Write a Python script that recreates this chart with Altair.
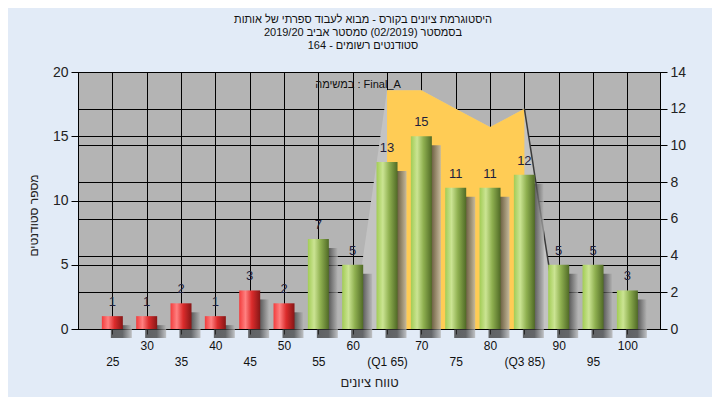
import altair as alt
import pandas as pd

# ---- data ----
scores = [25, 30, 35, 40, 45, 50, 55, 60, 65, 70, 75, 80, 85, 90, 95, 100]
counts = [1, 1, 2, 1, 3, 2, 7, 5, 13, 15, 11, 11, 12, 5, 5, 3]
tick_labels = ["25", "30", "35", "40", "45", "50", "55", "60", "(Q1 65)",
               "70", "75", "80", "(Q3 85)", "90", "95", "100"]
fail_limit = 50

# area shape (right axis)
side_scores = [60, 65, 70, 75, 80, 85, 90]
side_values = [0, 13, 13, 12, 11, 12, 0]
band_scores = [65, 70, 75, 80, 85]
band_values = [13, 13, 12, 11, 12]
edge_scores = [85, 90]
edge_values = [12, 0]

title_lines = ["היסטוגרמת ציונים בקורס - מבוא לעבוד ספרתי של אותות",
               "בסמסטר  (02/2019)  סמסטר אביב 2019/20",
               "סטודנטים רשומים - 164"]
legend_text = ["במשימה : Final_A"]
x_title = "טווח ציונים"
y_title = "מספר סטודנטים"

FONT = "Liberation Sans"

bars_df = pd.DataFrame({"score": scores, "count": counts,
                        "grp": ["fail" if s <= fail_limit else "pass" for s in scores]})
side_df = pd.DataFrame({"score": side_scores, "v": side_values})
band_df = pd.DataFrame({"score": band_scores, "v": band_values})
edge_df = pd.DataFrame({"score": edge_scores, "v": edge_values})
legend_df = pd.DataFrame({"t": legend_text})

# label expression: alternate rows
parts = []
for i, (v, lab) in enumerate(zip(scores, tick_labels)):
    js = f"['', '{lab}']" if i % 2 == 0 else f"'{lab}'"
    parts.append(f"datum.value == {v} ? {js}")
label_expr = " : ".join(parts) + " : ''"

xscale = alt.Scale(domain=[20, 104.75], nice=False, zero=False, padding=0)
xaxis = alt.Axis(values=scores, labelExpr=label_expr, grid=True, gridColor="black",
                 gridOpacity=1, gridWidth=1, tickColor="black", tickSize=5,
                 domainColor="black", labelFont=FONT, labelFontSize=12,
                 labelColor="#111", labelLineHeight=16, labelPadding=6,
                 labelOverlap=False, labelFlush=False, title=x_title,
                 titleFont=FONT, titleFontSize=13, titleFontWeight="normal",
                 titleColor="#222", titlePadding=9)

lscale = alt.Scale(domain=[0, 20], nice=False)
laxis = alt.Axis(orient="left", values=[0, 5, 10, 15, 20], grid=True, gridColor="black",
                 gridOpacity=1, gridWidth=1, tickColor="black", tickSize=7,
                 domainColor="black", labelFont=FONT, labelFontSize=14,
                 labelColor="#222", labelPadding=3, title=y_title, titleFont=FONT,
                 titleFontSize=12, titleFontWeight="normal", titleColor="#222",
                 titleX=-38, titleY=143)
rscale = alt.Scale(domain=[0, 14], nice=False)
raxis = alt.Axis(orient="right", values=[0, 2, 4, 6, 8, 10, 12, 14], grid=True,
                 gridColor="black", gridOpacity=1, gridWidth=1, tickColor="black",
                 tickSize=7, domainColor="black", labelFont=FONT, labelFontSize=14,
                 labelColor="#222", labelPadding=3, title=None)

X = alt.X("score:Q", scale=xscale, axis=xaxis)

red_grad = {"gradient": "linear", "x1": 0, "x2": 1, "y1": 0, "y2": 0,
            "stops": [{"offset": 0, "color": "#f23c3c"}, {"offset": 0.3, "color": "#ff8080"},
                      {"offset": 0.6, "color": "#dc2c2c"}, {"offset": 1, "color": "#861616"}]}
green_grad = {"gradient": "linear", "x1": 0, "x2": 1, "y1": 0, "y2": 0,
              "stops": [{"offset": 0, "color": "#a2cc55"}, {"offset": 0.3, "color": "#cbe493"},
                        {"offset": 0.6, "color": "#8fb050"}, {"offset": 1, "color": "#506a26"}]}
shadow_grad = {"gradient": "linear", "x1": 0, "x2": 1, "y1": 0, "y2": 0,
               "stops": [{"offset": 0, "color": "#333333"}, {"offset": 0.55, "color": "#3a3a3a"},
                         {"offset": 1, "color": "#b4b4b4"}]}

# right-axis group
grey_area = alt.Chart(side_df).mark_area(color="#c3c3c3").encode(
    x=X, y=alt.Y("v:Q", scale=rscale, axis=raxis))
orange_area = alt.Chart(band_df).mark_area(color="#ffcc55").encode(
    x=X, y=alt.Y("v:Q", scale=rscale, axis=raxis))
edge_line = alt.Chart(edge_df).mark_line(color="#3a3a3a", strokeWidth=1.5).encode(
    x=X, y=alt.Y("v:Q", scale=rscale, axis=raxis))
right = alt.layer(grey_area, orange_area, edge_line)

# left-axis group
Y = alt.Y("count:Q", scale=lscale, axis=laxis)
shadow = alt.Chart(bars_df).mark_bar(size=21, xOffset=9, yOffset=9, color=shadow_grad,
                                     opacity=0.75).encode(x=X, y=Y)
red_bars = alt.Chart(bars_df).transform_filter("datum.grp == 'fail'").mark_bar(
    size=21, color=red_grad).encode(x=X, y=Y)
green_bars = alt.Chart(bars_df).transform_filter("datum.grp == 'pass'").mark_bar(
    size=21, color=green_grad).encode(x=X, y=Y)
labels = alt.Chart(bars_df).mark_text(baseline="bottom", dy=-7, font=FONT, fontSize=13,
                                      color="#1e1e3c").encode(
    x=X, y=Y, text="count:Q")
legend = alt.Chart(legend_df).mark_text(font=FONT, fontSize=11, color="#111").encode(
    x=alt.value(280), y=alt.value(13), text="t:N")
left = alt.layer(shadow, red_bars, green_bars, labels, legend)

chart = alt.layer(right, left).resolve_scale(y="independent").properties(
    width=582, height=257,
    autosize=alt.AutoSizeParams(type="none"),
    padding={"left": 70, "top": 64, "right": 52, "bottom": 68},
    background="#e2ebf7",
    title=alt.TitleParams(text=title_lines, anchor="middle", font=FONT, fontSize=11,
                          fontWeight="normal", color="#111", lineHeight=13, offset=14,
                          dx=-6),
).configure_view(fill="#b4b4b4", stroke="black", strokeWidth=1)

chart.save("out.html", embed_options={"renderer": "svg", "actions": False})
